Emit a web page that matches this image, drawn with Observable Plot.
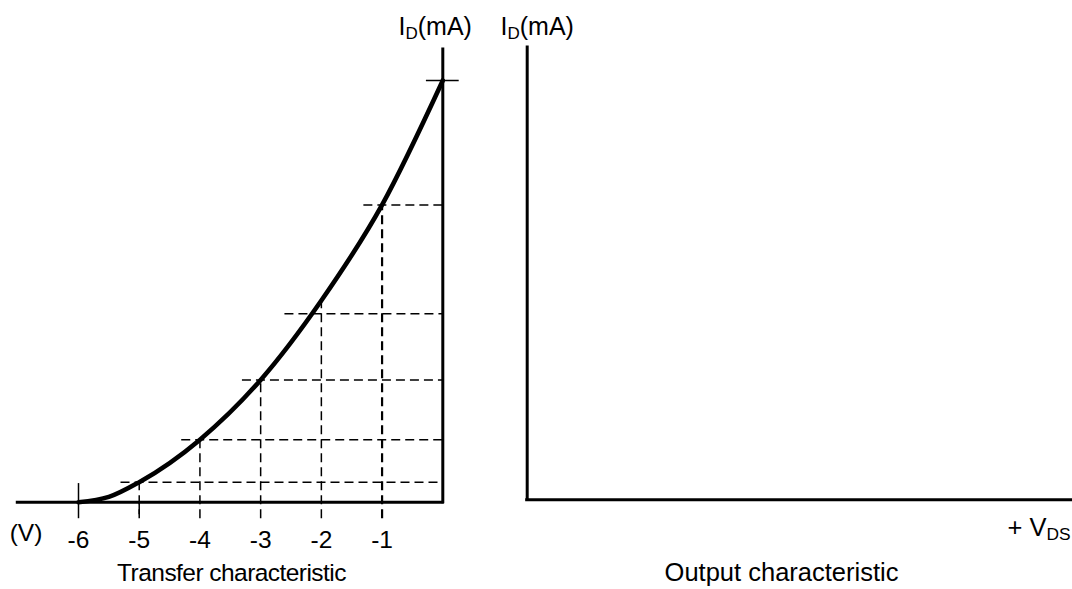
<!DOCTYPE html>
<html><head><meta charset="utf-8">
<script src="https://cdn.jsdelivr.net/npm/d3@7"></script>
<script src="https://cdn.jsdelivr.net/npm/@observablehq/plot@0.6"></script>
<style>
html,body{margin:0;padding:0;background:#fff;}
#chart{position:relative;width:1072px;height:589px;overflow:hidden;background:#fff;}
#left{position:absolute;left:0;top:0;}
#right{position:absolute;left:470px;top:0;}
</style></head><body><div id="chart"><div id="left"></div><div id="right"></div></div>
<script>
// Transfer characteristic curve (VGS in V, ID in mA)
const vgs = [-6, -5.5, -5, -4, -3, -2, -1, 0];
const idTransfer = [0, 0.15, 0.57, 1.78, 3.48, 5.74, 8.46, 12];
// Dashed construction lines: verticals at these VGS, horizontals at these ID levels
const gridVgs = [-5, -4, -3, -2, -1];
const gridLevelId = [0.57, 1.78, 3.48, 5.36, 8.46];
const gridStartVgs = [-5.3, -4.3, -3.3, -2.6, -1.3];
// Axis ticks
const tickVgs = [-6, -5, -4, -3, -2, -1];
const tickLabels = ["-6", "-5", "-4", "-3", "-2", "-1"];
const idss = 12;
const idAxisTop = 12.88;
const vgsAxisStart = -7;

const curve = vgs.map((v, i) => ({v, id: idTransfer[i]}));
const vGrid = gridVgs.map(v => ({v, id: idTransfer[vgs.indexOf(v)]}));
const hGrid = gridLevelId.map((id, i) => ({id, start: gridStartVgs[i]}));

const font = "'Liberation Sans', Arial, sans-serif";
const fs = 24.5;
const dash = "9,5";

function subscripts(svg) {
  d3.select(svg).selectAll("text").each(function () {
    const t = this.textContent;
    if (t === "Transfer characteristic") d3.select(this).attr("letter-spacing", "-0.55");
    const m = t.match(/^(.*?)_([A-Z]+)(.*)$/);
    if (!m) return;
    const sel = d3.select(this);
    sel.text(null);
    sel.append("tspan").text(m[1]);
    sel.append("tspan").attr("font-size", "68%").attr("dy", "4").text(m[2]);
    if (m[3]) sel.append("tspan").attr("dy", "-4").text(m[3]);
  });
  return svg;
}

const left = Plot.plot({
  width: 470, height: 589,
  marginLeft: 78, marginRight: 27.7, marginTop: 80, marginBottom: 87.3,
  x: {domain: [-6, 0]},
  y: {domain: [0, 12], axis: null},
  style: {fontFamily: font, fontSize: fs + "px", background: "transparent", overflow: "visible", color: "black"},
  marks: [
    Plot.ruleY(hGrid, {y: "id", x1: "start", x2: 0, stroke: "black", strokeWidth: 1.5, strokeDasharray: dash}),
    Plot.ruleX(vGrid, {x: "v", y1: -0.47, y2: "id", stroke: "black", strokeWidth: d => d.v === -1 ? 2.2 : 1.5, strokeDasharray: dash}),
    Plot.ruleX([-6], {y1: -0.47, y2: 0.53, stroke: "black", strokeWidth: 1.5}),
    Plot.ruleX([-5], {y1: -0.36, y2: 0, stroke: "black", strokeWidth: 1.5}),
    Plot.ruleY([0], {x1: vgsAxisStart, x2: 0, stroke: "black", strokeWidth: 3, strokeLinecap: "square"}),
    Plot.ruleX([0], {y1: 0, y2: idAxisTop, stroke: "black", strokeWidth: 3, strokeLinecap: "square"}),
    Plot.ruleY([idss], {x1: -0.27, x2: 0.27, stroke: "black", strokeWidth: 1.5}),
    Plot.line(curve, {x: "v", y: "id", curve: "monotone-x", stroke: "black", strokeWidth: 4.6, strokeLinecap: "round"}),
    Plot.axisX({ticks: tickVgs, tickSize: 0, tickPadding: 28, tickFormat: d => tickLabels[tickVgs.indexOf(d)], fontSize: fs, label: null}),
    Plot.text(["I_D(mA)"], {frameAnchor: "top-right", dx: -44.3, dy: -46, textAnchor: "start", lineAnchor: "bottom", fontSize: 25}),
    Plot.text(["(V)"], {frameAnchor: "bottom-left", dx: -52.5, dy: 38.3, textAnchor: "middle", lineAnchor: "bottom", fontSize: fs}),
    Plot.text(["Transfer characteristic"], {frameAnchor: "bottom-left", dx: 153, dy: 78.3, textAnchor: "middle", lineAnchor: "bottom", fontSize: fs})
  ]
});

const right = Plot.plot({
  width: 602, height: 589,
  marginLeft: 56.7, marginRight: 0, marginTop: 47, marginBottom: 89.7,
  x: {domain: [0, 1], axis: null},
  y: {domain: [0, 1], axis: null},
  style: {fontFamily: font, fontSize: fs + "px", background: "transparent", overflow: "visible", color: "black"},
  marks: [
    Plot.ruleY([0], {x1: 0, x2: 1, stroke: "black", strokeWidth: 3, strokeLinecap: "square"}),
    Plot.ruleX([0], {y1: 0, y2: 1, stroke: "black", strokeWidth: 3, strokeLinecap: "square"}),
    Plot.text(["I_D(mA)"], {frameAnchor: "top-left", dx: -26.7, dy: -13, textAnchor: "start", lineAnchor: "bottom", fontSize: 25}),
    Plot.text(["+ V_DS"], {frameAnchor: "bottom-right", dx: -2, dy: 35.7, textAnchor: "end", lineAnchor: "bottom", fontSize: 25.5}),
    Plot.text(["Output characteristic"], {frameAnchor: "bottom-left", dx: 254.3, dy: 80.7, textAnchor: "middle", lineAnchor: "bottom", fontSize: 25.5})
  ]
});

document.getElementById("left").appendChild(subscripts(left));
document.getElementById("right").appendChild(subscripts(right));
</script>
</body></html>
